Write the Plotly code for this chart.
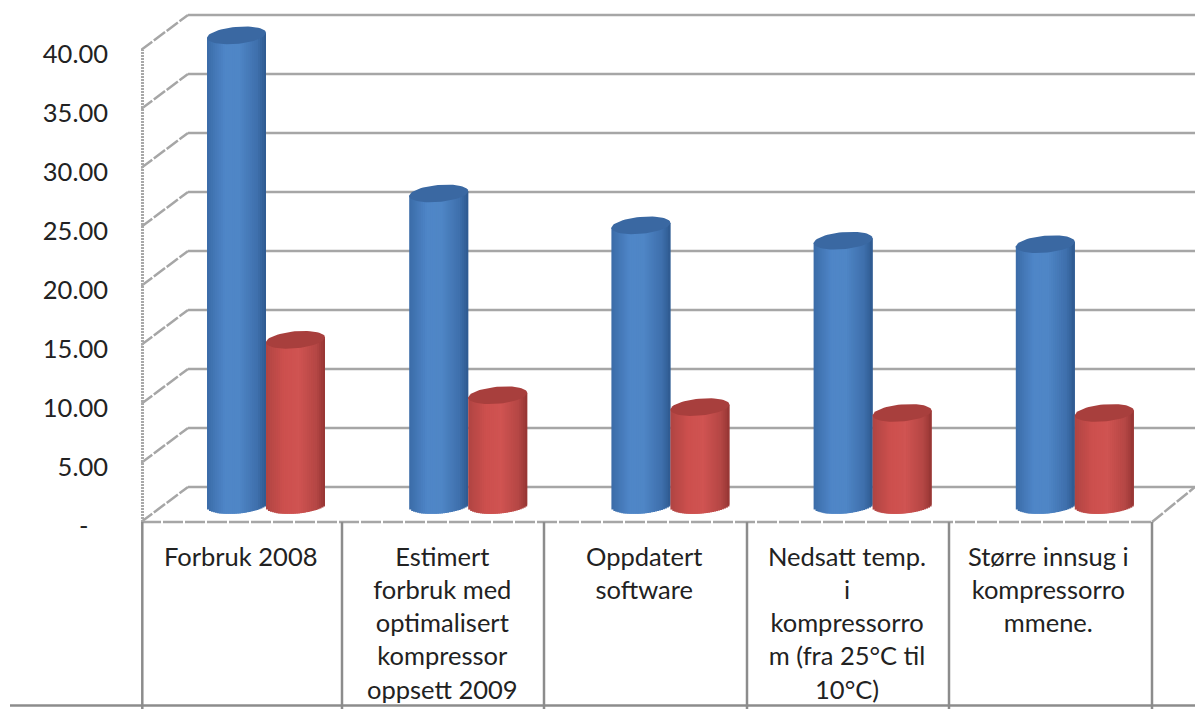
import numpy as np
import plotly.graph_objects as go

labels = ["Forbruk 2008",
          "Estimert<br>forbruk med<br>optimalisert<br>kompressor<br>oppsett 2009",
          "Oppdatert<br>software",
          "Nedsatt temp.<br>i<br>kompressorro<br>m (fra 25°C til<br>10°C)",
          "Større innsug i<br>kompressorro<br>mmene."]
blue_values = [39.8, 26.4, 23.7, 22.4, 22.1]
red_values = [14.0, 9.3, 8.3, 7.8, 7.8]
tick_vals = [0, 5, 10, 15, 20, 25, 30, 35, 40]
tick_text = ["-\u00a0\u00a0\u00a0", "5.00", "10.00", "15.00", "20.00", "25.00", "30.00", "35.00", "40.00"]

BLUE_STOPS = [(0, "#3b6ca8"), (0.3, "#4f86c8"), (0.55, "#4f86c6"), (0.85, "#3f70ad"), (1, "#2f5a90")]
RED_STOPS = [(0, "#b04543"), (0.3, "#cd504e"), (0.55, "#d05452"), (0.85, "#b54745"), (1, "#963634")]
BLUE_TOP = "#3a68a2"
RED_TOP = "#a83f3d"
GRID = "#a6a6a6"
FONT = "Lato"
FSIZE = 25.5

W, H = 1195, 709
PX_UNIT = 11.8
PX_CAT = 202.2
X0_PX = 266.0
Y0_PX = 522.0
LEFT = 141


def xd(px):
    return (px - X0_PX) / PX_CAT


def yd(py):
    return (Y0_PX - py) / PX_UNIT


DEPTH = 17 / PX_UNIT
RY = 8.5 / PX_UNIT
TILT = 2.5 / PX_UNIT
BAR_W = 59 / PX_CAT
N = 30


def hex2rgb(h):
    return np.array([int(h[i:i + 2], 16) for i in (1, 3, 5)], float)


def ramp(stops, f):
    for (a, ca), (b, cb) in zip(stops, stops[1:]):
        if f <= b:
            m = (f - a) / (b - a)
            c = hex2rgb(ca) * (1 - m) + hex2rgb(cb) * m
            return "rgb(%d,%d,%d)" % tuple(c)
    return stops[-1][1]


fig = go.Figure()
cats = list(range(len(labels)))


def cylinder(values, side, stops, top):
    left = -BAR_W if side == 0 else 0.0
    step = BAR_W / N
    for k in range(N):
        f = (k + 0.5) / N
        t = 2 * f - 1
        s = np.sqrt(max(0, 1 - t * t))
        fig.add_trace(go.Bar(
            x=cats,
            y=[v + RY * s for v in values],
            base=[DEPTH - RY * s + TILT * t] * len(values),
            width=min(2.2 * step, BAR_W - k * step),
            offset=left + k * step,
            marker=dict(color=ramp(stops, f), line=dict(width=0)),
            showlegend=False, hoverinfo="skip"))
    th = np.linspace(0, 2 * np.pi, 60)
    for c, v in zip(cats, values):
        cx = c + left + BAR_W / 2
        fig.add_trace(go.Scatter(
            x=cx + BAR_W / 2 * np.cos(th),
            y=v + DEPTH + RY * np.sin(th) + TILT * np.cos(th),
            mode="lines", fill="toself", fillcolor=top,
            line=dict(width=0, color=top),
            showlegend=False, hoverinfo="skip"))


cylinder(blue_values, 0, BLUE_STOPS, BLUE_TOP)
cylinder(red_values, 1, RED_STOPS, RED_TOP)

shapes = []
BACK_DY = 35 / PX_UNIT
xf, xb, xr = xd(LEFT), xd(188), xd(1195)
for v in tick_vals:
    shapes.append(dict(type="line", xref="x", yref="y", x0=xb, x1=xr, y0=v + BACK_DY, y1=v + BACK_DY,
                       line=dict(color=GRID, width=2.5), layer="below"))
    shapes.append(dict(type="line", xref="x", yref="y", x0=xf, x1=xb, y0=v, y1=v + BACK_DY,
                       line=dict(color=GRID, width=2.5, dash="14px,2px"), layer="below"))
shapes.append(dict(type="line", xref="x", yref="y", x0=xf + 1.5 / PX_CAT, x1=xf + 1.5 / PX_CAT, y0=0, y1=40,
                   line=dict(color="#a8a8a8", width=3, dash="2px,1px"), layer="below"))
shapes.append(dict(type="line", xref="x", yref="y", x0=xf, x1=xd(1152), y0=0, y1=0,
                   line=dict(color=GRID, width=2.5, dash="20px,2px"), layer="below"))
shapes.append(dict(type="line", xref="x", yref="y", x0=xd(1152), x1=xr, y0=0, y1=BACK_DY,
                   line=dict(color=GRID, width=2.5, dash="14px,2px"), layer="below"))
for px in [LEFT + 1.3, 342, 544, 747, 949, 1152]:
    shapes.append(dict(type="line", xref="x", yref="y", x0=xd(px), x1=xd(px), y0=0, y1=yd(709),
                       line=dict(color="#8c8c8c", width=2.5), layer="below"))
shapes.append(dict(type="line", xref="paper", yref="y", x0=(10 - LEFT) / (W - LEFT), x1=1,
                   y0=yd(705.5), y1=yd(705.5), line=dict(color="#8c8c8c", width=2.5), layer="below"))

annotations = []
for c, lab in zip(cats, labels):
    annotations.append(dict(x=c - 26 / PX_CAT, y=yd(538.5), xref="x", yref="y", text=lab,
                            showarrow=False, xanchor="center", yanchor="top", align="center",
                            font=dict(family=FONT, size=FSIZE, color="#222222")))

fig.update_layout(
    width=W, height=H, autosize=False,
    margin=dict(l=LEFT, r=0, t=0, b=0),
    paper_bgcolor="white", plot_bgcolor="white",
    barmode="overlay", showlegend=False,
    shapes=shapes, annotations=annotations,
    xaxis=dict(range=[xd(LEFT), xd(W)], showgrid=False, zeroline=False, showticklabels=False,
               showline=False, ticks="", fixedrange=True),
    yaxis=dict(range=[yd(H), yd(0)], tickvals=tick_vals, ticktext=tick_text, showgrid=False,
               zeroline=False, showline=False, ticks="", ticklabelstandoff=32, ticklabelshift=4,
               fixedrange=True, tickfont=dict(family=FONT, size=FSIZE, color="#222222")),
)
fig.write_html("out.html", config=dict(displayModeBar=False),
               post_script="document.body.style.margin='0';document.documentElement.style.overflow='hidden';")
